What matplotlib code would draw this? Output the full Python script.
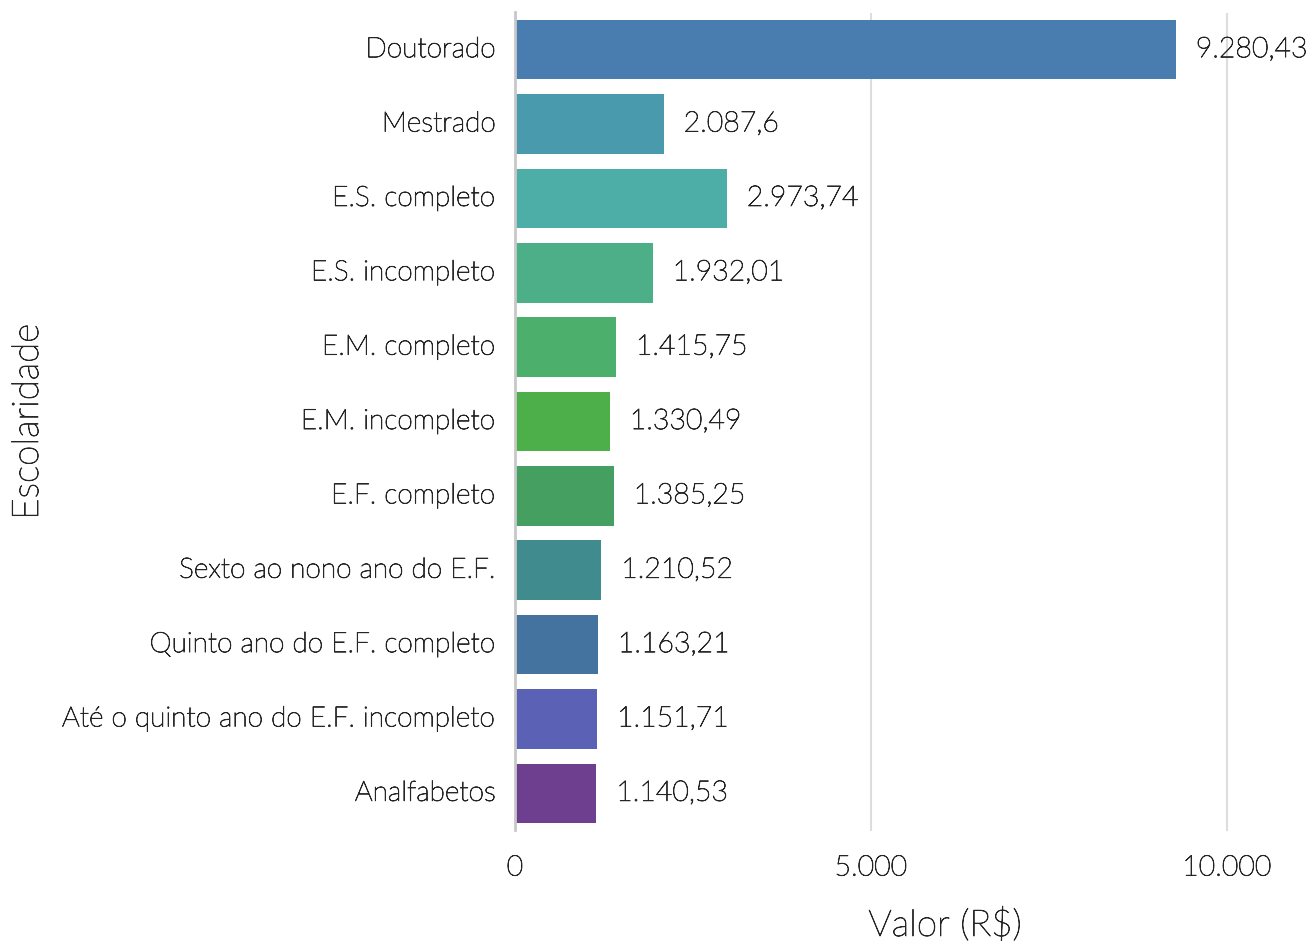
import matplotlib
matplotlib.use("Agg")
import matplotlib.pyplot as plt
import matplotlib.patheffects as pe
from matplotlib.ticker import FuncFormatter

categorias = ["Doutorado", "Mestrado", "E.S. completo", "E.S. incompleto",
              "E.M. completo", "E.M. incompleto", "E.F. completo",
              "Sexto ao nono ano do E.F.", "Quinto ano do E.F. completo",
              "Até o quinto ano do E.F. incompleto", "Analfabetos"]
valores = [9280.43, 2087.6, 2973.74, 1932.01, 1415.75, 1330.49, 1385.25,
           1210.52, 1163.21, 1151.71, 1140.53]
cores = ["#4a7daf", "#4a9aad", "#4caea6", "#4caf88", "#4caf6b", "#4caf4a",
         "#449f60", "#3f8b8e", "#43739e", "#5b62b5", "#6e3f8f"]
xticks = [0, 5000, 10000]

plt.rcParams['font.family'] = ['Lato', 'DejaVu Sans']
W = 'light'
FS = 20.5
FSY = 20.2
TC = '#262626'
PE = [pe.withStroke(linewidth=0.6, foreground=TC)]

def br(v, dec=2):
    s = f"{v:,.{dec}f}"
    s = s.replace(",", "X").replace(".", ",").replace("X", ".")
    if "," in s:
        s = s.rstrip("0").rstrip(",")
    return s

fig = plt.figure(figsize=(13.16, 9.41), dpi=100)
ax = fig.add_axes([515/1316, (941-830.5)/941, 790/1316, 818/941])

ypos = list(range(len(categorias)))
ax.barh(ypos, valores, height=0.8, color=cores, zorder=3)
ax.set_ylim(len(categorias)-0.5, -0.5)
ax.set_xlim(0, 790/0.0712)

for y, v in zip(ypos, valores):
    ax.annotate(br(v), (v, y), xytext=(14.4, 1.8), textcoords='offset points',
                ha='left', va='center_baseline', fontsize=FS, color=TC,
                fontweight=W, path_effects=PE)

ax.set_yticks(ypos)
ax.set_yticklabels(categorias, fontsize=FSY, color=TC, fontweight=W)
ax.set_xticks(xticks)
ax.xaxis.set_major_formatter(FuncFormatter(lambda v, p: br(v, 0)))
for lab in ax.get_xticklabels():
    lab.set_fontsize(FS); lab.set_color(TC); lab.set_fontweight(W)
    lab.set_path_effects(PE)
for lab in ax.get_yticklabels():
    lab.set_path_effects(PE)
    lab.set_va('center')
ax.tick_params(axis='y', length=0, pad=14)
ax.tick_params(axis='x', length=0, pad=18)
ax.grid(axis='x', color='#dddddd', linewidth=1.5, zorder=0)
for s in ['top', 'right', 'bottom']:
    ax.spines[s].set_visible(False)
ax.spines['left'].set_color('#c8c8c8')
ax.spines['left'].set_linewidth(2)
ax.spines['left'].set_zorder(4)

fig.text(945/1316, 1-925/941, "Valor (R$)", ha='center', va='center',
         fontsize=26.5, color=TC, fontweight=W, path_effects=PE)
fig.text(28/1316, 1-422/941, "Escolaridade", ha='center', va='center',
         rotation=90, fontsize=26.5, color=TC, fontweight=W, path_effects=PE)

fig.savefig("out.png", dpi=100)
